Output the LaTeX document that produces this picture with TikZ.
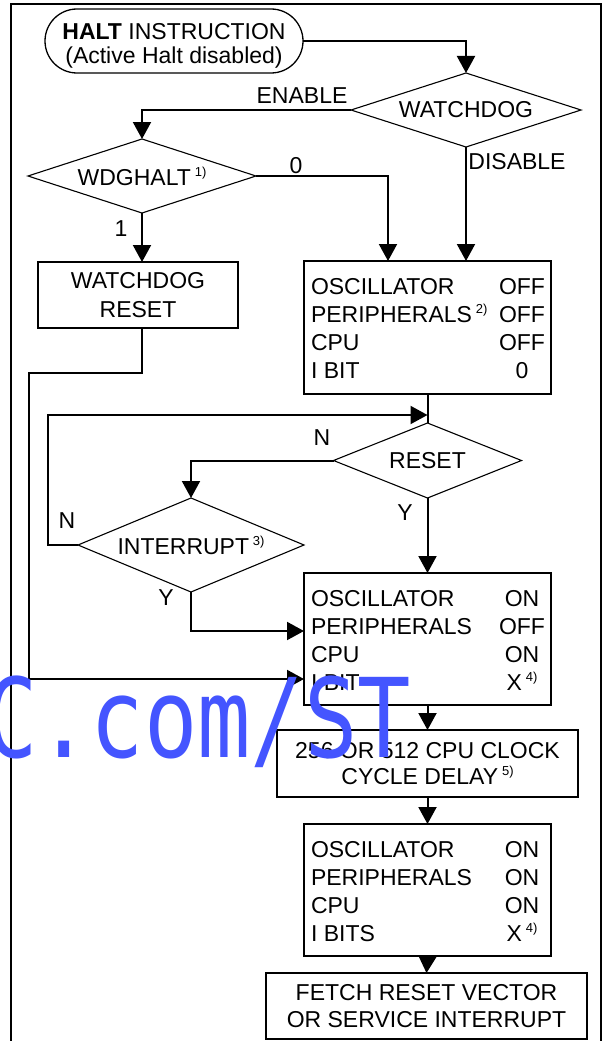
\documentclass[tikz,border=0pt]{standalone}
\usepackage{fontspec}
\usepackage{graphicx}
\setmainfont{Liberation Sans}
\newfontfamily\wmfont{DejaVu Sans Mono}
\usetikzlibrary{shapes.geometric,arrows.meta}
\definecolor{wmblue}{RGB}{68,85,255}
\newcommand{\fn}[1]{\raisebox{9pt}{\fontsize{13}{13}\selectfont #1}}
\begin{document}
\begin{tikzpicture}[x=1pt,y=-1pt,
  every node/.style={font=\fontsize{23}{28}\selectfont, inner sep=0pt, outer sep=0pt},
  conn/.style={line width=2pt, -{Triangle[length=17pt,width=18pt]}},
  plain/.style={line width=2pt},
  boxnode/.style={draw, line width=2pt, rectangle, align=center},
  dec/.style={draw, line width=1.1pt, diamond},
  term/.style={draw, line width=1.3pt, rectangle, rounded corners=32pt, minimum width=258pt, minimum height=64pt},
  lt/.style={anchor=base west},
  rt/.style={anchor=base},
]
\useasboundingbox (0,0) rectangle (607,1041);

% outer frame
\draw[line width=2pt] (11,1050) -- (11,4) -- (601,4) -- (601,1050);

% terminal
\node[term] (halt) at (174,41) {};
\node[align=center, font=\fontsize{23}{24}\selectfont] (halttxt) at (174,46) {\textbf{HALT} INSTRUCTION\\(Active Halt disabled)};

% decisions
\node[dec, aspect=3.1, minimum width=230pt, minimum height=74pt] (wd) at (466,110) {WATCHDOG};
\node[dec, aspect=3.08, minimum width=228pt, minimum height=74pt] (wg) at (142,176) {WDGHALT\,\fn{1)}};
\node[dec, aspect=2.5, minimum width=188pt, minimum height=75pt] (rs) at (427.5,460.5) {RESET};
\node[dec, aspect=2.4, minimum width=226pt, minimum height=94pt] (it) at (191,545) {INTERRUPT\,\fn{3)}};

% boxes
\node[boxnode, font=\fontsize{23}{29}\selectfont, minimum width=200pt, minimum height=66pt] (wr) at (138,295) {WATCHDOG\\RESET};
\node[boxnode, minimum width=247pt, minimum height=133pt] (off) at (427.5,327.5) {};
\node[boxnode, minimum width=247pt, minimum height=132pt] (on1) at (427.5,639) {};
\node[boxnode, font=\fontsize{23}{26}\selectfont, minimum width=301pt, minimum height=67pt] (dl) at (427.5,763.5) {256 OR 512 CPU CLOCK\\CYCLE DELAY\,\fn{5)}};
\node[boxnode, minimum width=247pt, minimum height=132pt] (on2) at (427.5,890) {};
\node[boxnode, font=\fontsize{23}{27}\selectfont, minimum width=321pt, minimum height=66pt] (ft) at (426.5,1006) {FETCH RESET VECTOR\\OR SERVICE INTERRUPT};

% box contents: OFF box
\node[lt] (o1a) at (311,294) {OSCILLATOR};   \node[rt] (o1b) at (522,294) {OFF};
\node[lt] (o2a) at (311,322) {PERIPHERALS\,\fn{2)}}; \node[rt] (o2b) at (522,322) {OFF};
\node[lt] (o3a) at (311,350) {CPU};          \node[rt] (o3b) at (522,350) {OFF};
\node[lt] (o4a) at (311,378) {I BIT};        \node[rt] (o4b) at (522,378) {0};
% on1
\node[lt] (p1a) at (311,606) {OSCILLATOR};   \node[rt] (p1b) at (522,606) {ON};
\node[lt] (p2a) at (311,634) {PERIPHERALS};  \node[rt] (p2b) at (522,634) {OFF};
\node[lt] (p3a) at (311,662) {CPU};          \node[rt] (p3b) at (522,662) {ON};
\node[lt] (p4a) at (311,690) {I BIT};        \node[rt] (p4b) at (522,690) {X\,\fn{4)}};
% on2
\node[lt] (q1a) at (311,857) {OSCILLATOR};   \node[rt] (q1b) at (522,857) {ON};
\node[lt] (q2a) at (311,885) {PERIPHERALS};  \node[rt] (q2b) at (522,885) {ON};
\node[lt] (q3a) at (311,913) {CPU};          \node[rt] (q3b) at (522,913) {ON};
\node[lt] (q4a) at (311,941) {I BITS};       \node[rt] (q4b) at (522,941) {X\,\fn{4)}};

% helper coordinates
\coordinate (zin) at (388,0);
\coordinate (c1) at (29,373);
\coordinate (c2) at (29,679);
\coordinate (lp) at (48,415);
\coordinate (yy) at (0,631);

% connectors
\draw[conn] (halt.east) -| (wd.north);
\draw[conn] (wd.west) -| (wg.north);
\draw[conn] (wd.south) -- (wd.south |- off.north);
\draw[conn] (wg.east) -| (zin |- off.north);
\draw[conn] (wg.south) -- (wg.south |- wr.north);
\draw[conn] (wg.south |- wr.south) |- (c1) -- (c2) -- (c2 -| on1.west);
\draw[plain] (off.south) -- (rs.north);
\draw[conn] (it.west) -| (lp) -- (lp -| rs.north);
\draw[conn] (rs.west) -| (it.north);
\draw[conn] (rs.south) -- (on1.north);
\draw[conn] (it.south) |- (yy -| on1.west);
\draw[conn] (on1.south) -- (dl.north);
\draw[conn] (dl.south) -- (on2.north);
\draw[conn] (on2.south) -- (ft.north);

% connector labels
\node (lenable) at (302,96) {ENABLE};
\node (ldisable) at (517,162) {DISABLE};
\node (lzero) at (296,166) {0};
\node (lone) at (121,229) {1};
\node (lnr) at (322,438) {N};
\node (lni) at (67,521) {N};
\node (lyr) at (405,513) {Y};
\node (lyi) at (166,598) {Y};

% watermark
\node[anchor=base west, text=wmblue, font=\wmfont\fontsize{88.7}{90}\selectfont] (wm) at (-16,757) {\scalebox{1}[1.24]{C.com/ST}};
\end{tikzpicture}
\end{document}
